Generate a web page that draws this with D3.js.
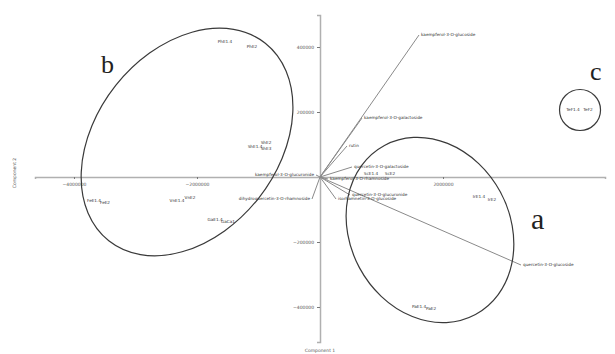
<!DOCTYPE html>
<html>
<head>
<meta charset="utf-8">
<script src="https://cdn.jsdelivr.net/npm/d3@7"></script>
<style>
  body { margin: 0; background: #fff; }
  svg { display: block; }
</style>
</head>
<body>
<div id="biplot"></div>
<script>
// sample scores (Component 1, Component 2)
const sampleNames = ["PhE1.4", "PhE2", "ShE1.4", "ShE2", "ShE3", "FeE1.4", "FeE2", "VnE1.4", "VnE2",
    "GaE1.4", "GaCa1", "ScE1.4", "ScE2", "IrE1.4", "IrE2", "PaE1.4", "PaE2", "TeF1.4", "TeF2"];
const sampleX = [-1545000, -1105700, -1056900, -878000, -878000, -3674800, -3495900, -2325200, -2113800,
    -1707300, -1495900, 829300, 1138200, 2585300, 2796700, 1609800, 1804900, 4113800, 4357700];
const sampleY = [415400, 400000, 92300, 104600, 86200, -73800, -80000, -73800, -64600,
    -132300, -138500, 9200, 9200, -61500, -70800, -400000, -406200, 206200, 206200];

// loading vectors
const loadingNames = ["kaempferol-3-O-glucoside", "kaempferol-3-O-galactoside", "rutin",
    "quercetin-3-O-galactoside", "kaempferol-3-O-glucuronide", "kaempferol-3-O-rhamnoside",
    "quercetin-3-O-glucuronide", "isorhamnetin-3-O-glucoside", "quercetin-3-O-glucoside",
    "dihydroquercetin-3-O-rhamnoside"];
const loadingX = [1609700, 682900, 439000, 520300, -65000, 130000, 487800, 260200, 3268300, -130000];
const loadingY = [436900, 181500, 95400, 30800, 6200, -6200, -55400, -67700, -270800, -67700];

const xTicks = [-4000000, -2000000, 2000000];
const yTicks = [400000, 200000, -200000, -400000];

// groups: centre, semi-axes (data units) and tilt
const groupNames = ["b", "a", "c"];
const groupCX = [-2162000, 1788000, 4228000];
const groupCY = [107700, -163000, 206200];

const W = 615, H = 354;
const svg = d3.select("#biplot").append("svg")
    .attr("width", W).attr("height", H);

const x = d3.scaleLinear().domain([-4634100, 4634100]).range([35, 605]);
const y = d3.scaleLinear().domain([-507700, 498500]).range([342, 15]);

const font = "DejaVu Sans, sans-serif";

// axes through the origin
const xAxis = svg.append("g")
    .attr("transform", `translate(0,${y(0)})`)
    .call(d3.axisBottom(x).tickValues(xTicks).tickSize(2).tickFormat(d3.format("d")));
const yAxis = svg.append("g")
    .attr("transform", `translate(${x(0)},0)`)
    .call(d3.axisLeft(y).tickValues(yTicks).tickSize(3).tickFormat(d3.format("d")));

[xAxis, yAxis].forEach(g => {
    g.select(".domain").attr("stroke", "#b0b0b0").attr("stroke-width", 1.5);
    g.selectAll(".tick line").attr("stroke", "#777");
    g.selectAll(".tick text")
        .attr("fill", "#555")
        .style("font-size", "4.5px")
        .style("font-family", font);
});
xAxis.selectAll(".tick text").attr("dy", "0.9em");

// axis titles
svg.append("text")
    .attr("x", x(0)).attr("y", 352)
    .attr("text-anchor", "middle")
    .attr("fill", "#555")
    .style("font-size", "4.5px").style("font-family", font)
    .text("Component 1");
svg.append("text")
    .attr("transform", `translate(16,${y(0) - 4}) rotate(-90)`)
    .attr("text-anchor", "middle")
    .attr("fill", "#555")
    .style("font-size", "4.5px").style("font-family", font)
    .text("Component 2");

// loading vectors
const loadings = loadingNames.map((n, i) => ({ name: n, x: loadingX[i], y: loadingY[i] }));
svg.append("g").selectAll("line")
    .data(loadings)
    .join("line")
    .attr("x1", x(0)).attr("y1", y(0))
    .attr("x2", d => x(d.x)).attr("y2", d => y(d.y))
    .attr("stroke", "#8a8a8a")
    .attr("stroke-width", 1);

svg.append("g").selectAll("text")
    .data(loadings)
    .join("text")
    .attr("x", d => x(d.x) + (d.x < 0 ? -2 : 2))
    .attr("y", d => y(d.y))
    .attr("dy", "0.35em")
    .attr("text-anchor", d => d.x < 0 ? "end" : "start")
    .attr("fill", "#333")
    .style("font-size", "4.2px").style("font-family", font)
    .text(d => d.name);

// sample labels
const samples = sampleNames.map((n, i) => ({ name: n, x: sampleX[i], y: sampleY[i] }));
svg.append("g").selectAll("text")
    .data(samples)
    .join("text")
    .attr("x", d => x(d.x))
    .attr("y", d => y(d.y))
    .attr("dy", "0.35em")
    .attr("text-anchor", "middle")
    .attr("fill", "#333")
    .style("font-size", "4.2px").style("font-family", font)
    .text(d => d.name);

// group ellipses (pixel sizes derived from the scales)
const pxPerX = x(1000000) - x(0), pxPerY = y(0) - y(100000);
const ellipses = [
    { cx: groupCX[0], cy: groupCY[0], rx: 126, ry: 91, rot: -51.6 },
    { cx: groupCX[1], cy: groupCY[1], rx: 96, ry: 80, rot: 61.7 },
    { cx: groupCX[2], cy: groupCY[2], rx: 20.5, ry: 20.5, rot: 0 }
];
svg.append("g").selectAll("ellipse")
    .data(ellipses)
    .join("ellipse")
    .attr("transform", d => `translate(${x(d.cx)},${y(d.cy)}) rotate(${d.rot})`)
    .attr("rx", d => d.rx).attr("ry", d => d.ry)
    .attr("fill", "none")
    .attr("stroke", "#3a3a3a")
    .attr("stroke-width", 1.2);

// group letters
const letterPos = [[-3560000, 320000, 26], [3430000, -160000, 30], [4390000, 300000, 26]];
svg.append("g").selectAll("text")
    .data(groupNames)
    .join("text")
    .attr("x", (d, i) => x(letterPos[i][0]))
    .attr("y", (d, i) => y(letterPos[i][1]))
    .attr("fill", "#222")
    .style("font-size", (d, i) => letterPos[i][2] + "px")
    .style("font-family", "Liberation Serif, serif")
    .text(d => d);
</script>
</body>
</html>
